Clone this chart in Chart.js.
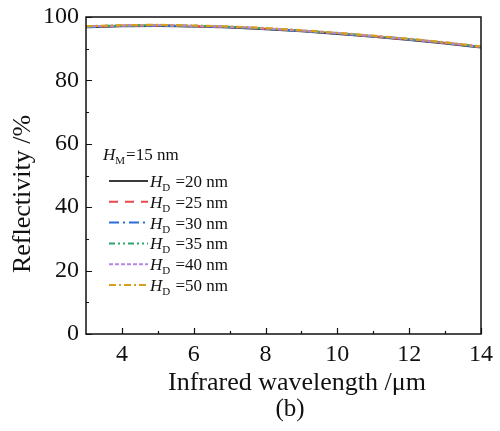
<!DOCTYPE html>
<html>
<head>
<meta charset="utf-8">
<script src="https://cdn.jsdelivr.net/npm/chart.js@4.4.1/dist/chart.umd.min.js"></script>
<style>
html,body{margin:0;padding:0;background:#fff;}
canvas{display:block;}
</style>
</head>
<body>
<canvas id="c" width="500" height="431"></canvas>
<script>
// ---- data ----
const wavelength = [3, 4, 5, 6, 7, 8, 9, 10, 11, 12, 13, 14];
const refl_HD20 = [96.8, 97.1, 97.2, 97.0, 96.7, 96.2, 95.5, 94.7, 93.8, 92.8, 91.7, 90.4];
const refl_HD25 = [96.9, 97.2, 97.3, 97.1, 96.8, 96.3, 95.6, 94.8, 93.9, 92.9, 91.8, 90.5];
const refl_HD30 = [96.9, 97.2, 97.3, 97.1, 96.8, 96.3, 95.6, 94.8, 93.9, 92.9, 91.8, 90.5];
const refl_HD35 = [97.0, 97.3, 97.4, 97.2, 96.9, 96.4, 95.7, 94.9, 94.0, 93.0, 91.9, 90.6];
const refl_HD40 = [97.0, 97.3, 97.4, 97.2, 96.9, 96.4, 95.7, 94.9, 94.0, 93.0, 91.9, 90.6];
const refl_HD50 = [97.1, 97.4, 97.5, 97.3, 97.0, 96.5, 95.8, 95.0, 94.1, 93.1, 92.0, 90.7];
const seriesLabels = ["20 nm", "25 nm", "30 nm", "35 nm", "40 nm", "50 nm"];
const legendTitleValue = "15 nm";
const xTicks = [4, 6, 8, 10, 12, 14];
const xMinorTicks = [5, 7, 9, 11, 13];
const yTicks = [0, 20, 40, 60, 80, 100];
const yMinorTicks = [10, 30, 50, 70, 90];

const seriesValues = [refl_HD20, refl_HD25, refl_HD30, refl_HD35, refl_HD40, refl_HD50];
const styles = [
  {color: "#3a3a3a", dash: []},
  {color: "#e8484c", dash: [9, 7]},
  {color: "#2b6fd6", dash: [10, 4, 2, 4]},
  {color: "#2ea56c", dash: [6, 3, 2, 3, 2, 3]},
  {color: "#b785e4", dash: [4, 2]},
  {color: "#d6a01c", dash: [7, 3, 2, 3]}
];

const SERIF = '"Liberation Serif", "DejaVu Serif", serif';

const datasets = seriesValues.map((vals, i) => ({
  label: seriesLabels[i],
  data: wavelength.map((x, j) => ({x: x, y: vals[j]})),
  borderColor: styles[i].color,
  borderDash: styles[i].dash,
  borderWidth: 2.2,
  pointRadius: 0,
  fill: false,
  cubicInterpolationMode: 'monotone',
  order: seriesValues.length - i
}));

const framePlugin = {
  id: 'frame',
  afterDraw(chart) {
    const ctx = chart.ctx;
    const a = chart.chartArea;
    const xs = chart.scales.x, ys = chart.scales.y;
    ctx.save();
    ctx.strokeStyle = '#111';
    ctx.lineWidth = 1.5;
    ctx.setLineDash([]);
    ctx.strokeRect(a.left, a.top, a.right - a.left, a.bottom - a.top);
    ctx.lineWidth = 1.2;
    ctx.beginPath();
    xTicks.forEach(v => { const p = Math.round(xs.getPixelForValue(v)) + 0.5; ctx.moveTo(p, a.bottom); ctx.lineTo(p, a.bottom - 6); });
    xMinorTicks.forEach(v => { const p = Math.round(xs.getPixelForValue(v)) + 0.5; ctx.moveTo(p, a.bottom); ctx.lineTo(p, a.bottom - 3); });
    yTicks.forEach(v => { const p = Math.round(ys.getPixelForValue(v)) + 0.5; ctx.moveTo(a.left, p); ctx.lineTo(a.left + 6, p); });
    yMinorTicks.forEach(v => { const p = Math.round(ys.getPixelForValue(v)) + 0.5; ctx.moveTo(a.left, p); ctx.lineTo(a.left + 3, p); });
    ctx.stroke();

    ctx.fillStyle = '#111';
    ctx.textAlign = 'center';
    ctx.textBaseline = 'middle';
    // x axis title
    ctx.font = '26px ' + SERIF;
    ctx.fillText('Infrared wavelength /\u03bcm', 297, 383);
    // y axis title
    ctx.save();
    ctx.translate(23, 194);
    ctx.rotate(-Math.PI / 2);
    ctx.fillText('Reflectivity /%', 0, 0);
    ctx.restore();
    // panel label
    ctx.font = '25px ' + SERIF;
    ctx.fillText('(b)', 290, 409);

    // legend
    const drawHSub = (x, y, sub, rest) => {
      ctx.fillStyle = '#111';
      ctx.textBaseline = 'alphabetic';
      ctx.textAlign = 'left';
      ctx.font = 'italic 17px ' + SERIF;
      ctx.fillText('H', x, y);
      let w = ctx.measureText('H').width;
      ctx.font = '11px ' + SERIF;
      ctx.fillText(sub, x + w, y + 4);
      w += ctx.measureText(sub).width;
      ctx.font = '17px ' + SERIF;
      ctx.fillText(rest, x + w + 1, y);
    };
    drawHSub(103, 160, 'M', '=' + legendTitleValue);
    const rowY0 = 181, rowStep = 20.8;
    chart.data.datasets.forEach((ds, i) => {
      const y = rowY0 + i * rowStep;
      ctx.strokeStyle = ds.borderColor;
      ctx.lineWidth = 2;
      ctx.setLineDash(ds.borderDash);
      ctx.beginPath();
      ctx.moveTo(109, y);
      ctx.lineTo(148, y);
      ctx.stroke();
      ctx.setLineDash([]);
      drawHSub(150, y + 6, 'D', ' =' + ds.label);
    });
    ctx.restore();
  }
};

new Chart(document.getElementById('c'), {
  type: 'line',
  data: {datasets: datasets},
  options: {
    responsive: false,
    animation: false,
    events: [],
    layout: {padding: {left: 0, right: 19, top: 17, bottom: 32}},
    plugins: {legend: {display: false}, tooltip: {enabled: false}},
    scales: {
      x: {
        type: 'linear',
        min: 3, max: 14,
        afterBuildTicks: s => { s.ticks = xTicks.map(v => ({value: v})); },
        afterFit: s => { s.height = 65; s.paddingLeft = 0; s.paddingRight = 0; },
        grid: {display: false, drawTicks: false},
        border: {display: false},
        ticks: {color: '#111', padding: 6, maxRotation: 0, autoSkip: false, font: {family: SERIF, size: 24}},
        title: {display: false}
      },
      y: {
        type: 'linear',
        min: 0, max: 100,
        afterBuildTicks: s => { s.ticks = yTicks.map(v => ({value: v})); },
        afterFit: s => { s.width = 86; s.paddingTop = 0; s.paddingBottom = 0; },
        grid: {display: false, drawTicks: false},
        border: {display: false},
        ticks: {color: '#111', padding: 7, font: {family: SERIF, size: 24}},
        title: {display: false}
      }
    }
  },
  plugins: [framePlugin]
});
</script>
</body>
</html>
